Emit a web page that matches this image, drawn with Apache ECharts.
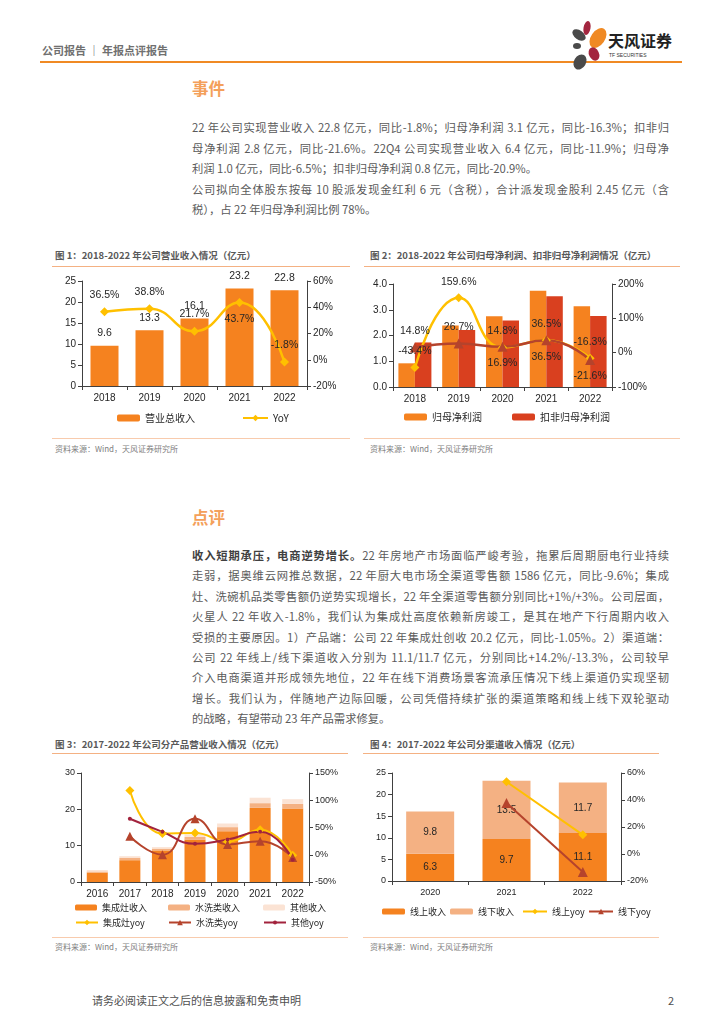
<!DOCTYPE html>
<html><head><meta charset="utf-8">
<script src="https://cdn.jsdelivr.net/npm/echarts@6/dist/echarts.min.js"></script>
<style>
body{margin:0;width:724px;height:1024px;background:#fff;position:relative;overflow:hidden;font-family:"Noto Sans CJK SC","Noto Sans",sans-serif;}
.a{position:absolute;white-space:nowrap;}
.hr{position:absolute;height:0;}
.h2{font-size:16.5px;font-weight:bold;color:#F4A05A;line-height:20px;}
.ln{position:absolute;left:192px;width:477px;font-size:11.3px;color:#5a5a5a;line-height:14px;white-space:normal;}
.j{text-align:justify;text-align-last:justify;}
.tt{font-size:9.5px;font-weight:bold;color:#595959;line-height:12px;}
.src{font-size:8px;color:#808080;line-height:10px;}
.chart{position:absolute;}
b{color:#404040;}
</style></head>
<body>
<!-- header -->
<div class="a" style="left:42px;top:43px;font-size:11px;font-weight:bold;color:#707070;line-height:14px;">公司报告 ｜ 年报点评报告</div>
<div class="hr" style="left:40px;top:61px;width:642px;border-top:2px solid #F08A24;"></div>
<svg class="a" style="left:566px;top:16px;" width="120" height="58" viewBox="566 16 120 58">
  <ellipse cx="579" cy="35" rx="7.5" ry="4.5" transform="rotate(35 579 35)" fill="#4a4a4a"/>
  <ellipse cx="587" cy="28" rx="3.5" ry="7" transform="rotate(10 587 28)" fill="#A3263F"/>
  <ellipse cx="598" cy="38" rx="7" ry="11" transform="rotate(35 598 38)" fill="#F08A24"/>
  <ellipse cx="577" cy="46" rx="4" ry="3" fill="#4a4a4a"/>
  <ellipse cx="594" cy="54" rx="5" ry="7" transform="rotate(-25 594 54)" fill="#A3263F"/>
  <ellipse cx="580" cy="62" rx="6" ry="8" transform="rotate(30 580 62)" fill="#4a4a4a"/>
  <text x="608" y="47" font-size="16" font-weight="bold" fill="#222" font-family="Noto Sans CJK SC">天风证券</text>
  <text x="609" y="57" font-size="5" fill="#333" font-family="Liberation Sans">TF SECURITIES</text>
</svg>

<!-- 事件 -->
<div class="a h2" style="left:192px;top:78px;">事件</div>
<div class="ln j" style="top:120px;">22 年公司实现营业收入 22.8 亿元，同比-1.8%；归母净利润 3.1 亿元，同比-16.3%；扣非归</div>
<div class="ln j" style="top:141px;">母净利润 2.8 亿元，同比-21.6%。22Q4 公司实现营业收入 6.4 亿元，同比-11.9%；归母净</div>
<div class="ln" style="top:161px;">利润 1.0 亿元，同比-6.5%；扣非归母净利润 0.8 亿元，同比-20.9%。</div>
<div class="ln j" style="top:182px;">公司拟向全体股东按每 10 股派发现金红利 6 元（含税），合计派发现金股利 2.45 亿元（含</div>
<div class="ln" style="top:202px;">税），占 22 年归母净利润比例 78%。</div>

<!-- chart titles -->
<div class="a tt" style="left:55px;top:249px;">图 1：2018-2022 年公司营业收入情况（亿元）</div>
<div class="hr" style="left:52px;top:266px;width:298px;border-top:1px solid #F4B183;"></div>
<div class="a tt" style="left:370px;top:249px;">图 2：2018-2022 年公司归母净利润、扣非归母净利润情况（亿元）</div>
<div class="hr" style="left:364px;top:266px;width:316px;border-top:1px solid #F4B183;"></div>
<div class="hr" style="left:52px;top:438px;width:298px;border-top:1px solid #F8CBAD;"></div>
<div class="hr" style="left:364px;top:438px;width:316px;border-top:1px solid #F8CBAD;"></div>
<div class="a src" style="left:55px;top:444px;">资料来源：Wind，天风证券研究所</div>
<div class="a src" style="left:370px;top:444px;">资料来源：Wind，天风证券研究所</div>

<div id="c1" class="chart" style="left:40px;top:262px;width:320px;height:175px;"></div>
<div id="c2" class="chart" style="left:360px;top:262px;width:330px;height:175px;"></div>

<!-- 点评 -->
<div class="a h2" style="left:192px;top:507px;">点评</div>
<div class="ln j" style="top:548px;"><b>收入短期承压，电商逆势增长。</b>22 年房地产市场面临严峻考验，拖累后周期厨电行业持续</div>
<div class="ln j" style="top:568px;">走弱，据奥维云网推总数据，22 年厨大电市场全渠道零售额 1586 亿元，同比-9.6%；集成</div>
<div class="ln j" style="top:589px;">灶、洗碗机品类零售额仍逆势实现增长，22 年全渠道零售额分别同比+1%/+3%。公司层面，</div>
<div class="ln j" style="top:609px;">火星人 22 年收入-1.8%，我们认为集成灶高度依赖新房竣工，是其在地产下行周期内收入</div>
<div class="ln j" style="top:630px;">受损的主要原因。1）产品端：公司 22 年集成灶创收 20.2 亿元，同比-1.05%。2）渠道端：</div>
<div class="ln j" style="top:650px;">公司 22 年线上/线下渠道收入分别为 11.1/11.7 亿元，分别同比+14.2%/-13.3%，公司较早</div>
<div class="ln j" style="top:670px;">介入电商渠道并形成领先地位，22 年在线下消费场景客流承压情况下线上渠道仍实现坚韧</div>
<div class="ln j" style="top:691px;">增长。我们认为，伴随地产边际回暖，公司凭借持续扩张的渠道策略和线上线下双轮驱动</div>
<div class="ln" style="top:711px;">的战略，有望带动 23 年产品需求修复。</div>

<div class="a tt" style="left:55px;top:738px;">图 3：2017-2022 年公司分产品营业收入情况（亿元）</div>
<div class="hr" style="left:52px;top:753px;width:296px;border-top:1px solid #F4B183;"></div>
<div class="a tt" style="left:370px;top:738px;">图 4：2017-2022 年公司分渠道收入情况（亿元）</div>
<div class="hr" style="left:363px;top:753px;width:296px;border-top:1px solid #F4B183;"></div>
<div class="hr" style="left:52px;top:937px;width:296px;border-top:1px solid #F8CBAD;"></div>
<div class="hr" style="left:363px;top:937px;width:296px;border-top:1px solid #F8CBAD;"></div>
<div class="a src" style="left:55px;top:942px;">资料来源：Wind，天风证券研究所</div>
<div class="a src" style="left:370px;top:942px;">资料来源：Wind，天风证券研究所</div>

<div id="c3" class="chart" style="left:40px;top:760px;width:320px;height:175px;"></div>
<div id="c4" class="chart" style="left:360px;top:760px;width:320px;height:175px;"></div>

<!-- footer -->
<div class="a" style="left:92px;top:993px;font-size:11px;color:#505050;line-height:14px;">请务必阅读正文之后的信息披露和免责申明</div>
<div class="a" style="left:668px;top:993px;font-size:11px;color:#505050;line-height:14px;">2</div>

<script>
// ---------- data ----------
const years1 = ['2018', '2019', '2020', '2021', '2022'];
const revenue = [9.6, 13.3, 16.1, 23.2, 22.8];
const revenueYoy = [36.5, 38.8, 21.7, 43.7, -1.8];

const years2 = ['2018', '2019', '2020', '2021', '2022'];
const netProfit = [0.92, 2.39, 2.75, 3.74, 3.14];
const deductedProfit = [1.73, 2.21, 2.58, 3.52, 2.76];
const netProfitYoy = [-43.4, 159.6, 14.8, 36.5, -16.3];
const deductedYoy = [14.8, 26.7, 16.9, 36.5, -21.6];

const years3 = ['2016', '2017', '2018', '2019', '2020', '2021', '2022'];
const stoveRev = [2.6, 6.0, 8.7, 11.6, 14.0, 20.4, 20.2];
const washRev = [0.3, 0.6, 0.5, 0.8, 1.1, 1.3, 1.3];
const otherRev = [0.4, 0.5, 0.4, 0.7, 1.0, 1.5, 1.3];
const stoveYoy = [null, 118, 39, 40, 24, 46, -1];
const washYoy = [null, 34, 0, 66, 19, 25, -5];
const otherYoy = [null, 66, 42, 20, 28, 42, -9];

const years4 = ['2020', '2021', '2022'];
const onlineRev = [6.3, 9.7, 11.1];
const offlineRev = [9.8, 13.5, 11.7];
const onlineYoy = [null, 53.5, 14.2];
const offlineYoy = [null, 37.8, -13.3];

// label placement (style, not data)
const revYoyPos = ['top', 'top', 'top', 'bottom', 'top'];
const npYoyPos = ['top', 'top', 'top', 'top', 'top'];
const dedYoyPos = ['top', 'top', 'bottom', 'bottom', 'bottom'];

// ---------- styles ----------
const AX = '#404040', TXT = '#262626';
const NUM = '"Liberation Sans", Arial, sans-serif';
const CJK = '"Noto Sans CJK SC", sans-serif';
const ORANGE = '#F5821F', RED = '#D9401F', SALMON = '#F4B183', PALE = '#FBE3D4';
const YEL = '#FFC000', BROWN = '#B5432C', CRIMSON = '#A2233D';

function valAxis(o, fs) {
  return Object.assign({
    type: 'value', splitLine: { show: false },
    axisLine: { show: true, lineStyle: { color: AX } },
    axisTick: { show: true, length: 4, lineStyle: { color: AX } },
    axisLabel: { color: TXT, fontSize: fs, fontFamily: NUM, margin: 6 }
  }, o);
}
function catAxis(data, fs) {
  return {
    type: 'category', data: data,
    axisLine: { show: true, lineStyle: { color: AX } },
    axisTick: { show: true, length: 4, lineStyle: { color: AX } },
    axisLabel: { color: TXT, fontSize: fs, fontFamily: NUM, margin: 7 }
  };
}
function leg(name, left, top, fs, iw, ih) {
  return { data: [name], left: left, top: top, itemWidth: iw, itemHeight: ih, padding: 0,
    selectedMode: false, textStyle: { fontSize: fs, color: TXT, fontFamily: CJK } };
}
const pct = p => p.value.toFixed(1) + '%';
const withPos = (vals, pos) => vals.map((v, i) => ({ value: v, label: { position: pos[i] } }));

// ---------- chart 1 ----------
echarts.init(document.getElementById('c1')).setOption({
  animation: false,
  grid: { left: 42, top: 19, width: 225, height: 105 },
  legend: [leg('营业总收入', 77, 151, 10, 23, 7), leg('YoY', 202, 151, 10, 25, 8)],
  xAxis: catAxis(years1, 10),
  yAxis: [
    valAxis({ min: 0, max: 25, interval: 5 }, 10),
    valAxis({ min: -20, max: 60, interval: 20, position: 'right',
      axisLabel: { color: TXT, fontSize: 10, fontFamily: NUM, margin: 6, formatter: '{value}%' } }, 10)
  ],
  series: [
    { name: '营业总收入', type: 'bar', data: revenue, barWidth: 28, itemStyle: { color: ORANGE },
      label: { show: true, position: 'top', distance: 7, color: TXT, fontSize: 10.5, fontFamily: NUM } },
    { name: 'YoY', type: 'line', yAxisIndex: 1, smooth: true, data: withPos(revenueYoy, revYoyPos),
      symbol: 'diamond', symbolSize: 9, lineStyle: { color: YEL, width: 2.5 }, itemStyle: { color: YEL },
      label: { show: true, distance: 7, color: TXT, fontSize: 10.5, fontFamily: NUM, formatter: pct } }
  ]
});

// ---------- chart 2 ----------
echarts.init(document.getElementById('c2')).setOption({
  animation: false,
  grid: { left: 33, top: 22, width: 219, height: 103 },
  legend: [leg('归母净利润', 44, 150, 10, 23, 7), leg('扣非归母净利润', 152, 150, 10, 23, 7)],
  xAxis: catAxis(years2, 10),
  yAxis: [
    valAxis({ min: 0, max: 4, interval: 1,
      axisLabel: { color: TXT, fontSize: 10, fontFamily: NUM, margin: 6, formatter: v => v.toFixed(1) } }, 10),
    valAxis({ min: -100, max: 200, interval: 100, position: 'right',
      axisLabel: { color: TXT, fontSize: 10, fontFamily: NUM, margin: 6, formatter: '{value}%' } }, 10)
  ],
  series: [
    { name: '归母净利润', type: 'bar', data: netProfit, barWidth: 16.5, barGap: '0%', itemStyle: { color: ORANGE } },
    { name: '扣非归母净利润', type: 'bar', data: deductedProfit, barWidth: 16.5, barGap: '0%', itemStyle: { color: RED } },
    { name: '归母yoy', type: 'line', yAxisIndex: 1, smooth: true, data: withPos(netProfitYoy, npYoyPos),
      symbol: 'diamond', symbolSize: 9, lineStyle: { color: YEL, width: 2.5 }, itemStyle: { color: YEL },
      label: { show: true, distance: 6, color: TXT, fontSize: 10.5, fontFamily: NUM, formatter: pct } },
    { name: '扣非yoy', type: 'line', yAxisIndex: 1, smooth: true, data: withPos(deductedYoy, dedYoyPos),
      symbol: 'triangle', symbolSize: 10, lineStyle: { color: BROWN, width: 2.5 }, itemStyle: { color: BROWN },
      label: { show: true, distance: 6, color: TXT, fontSize: 10.5, fontFamily: NUM, formatter: pct } }
  ]
});

// ---------- chart 3 ----------
echarts.init(document.getElementById('c3')).setOption({
  animation: false,
  grid: { left: 41, top: 13, width: 228, height: 109 },
  legend: [
    leg('集成灶收入', 35, 143, 9, 22, 6), leg('水洗类收入', 128, 143, 9, 22, 6), leg('其他收入', 223, 143, 9, 22, 6),
    leg('集成灶yoy', 35, 158, 9, 22, 7), leg('水洗类yoy', 128, 158, 9, 22, 7), leg('其他yoy', 223, 158, 9, 22, 5)
  ],
  xAxis: catAxis(years3, 10),
  yAxis: [
    valAxis({ min: 0, max: 30, interval: 10 }, 9),
    valAxis({ min: -50, max: 150, interval: 50, position: 'right',
      axisLabel: { color: TXT, fontSize: 9, fontFamily: NUM, margin: 6, formatter: '{value}%' } }, 9)
  ],
  series: [
    { name: '集成灶收入', type: 'bar', stack: 'p', data: stoveRev, barWidth: 21, itemStyle: { color: ORANGE } },
    { name: '水洗类收入', type: 'bar', stack: 'p', data: washRev, barWidth: 21, itemStyle: { color: SALMON } },
    { name: '其他收入', type: 'bar', stack: 'p', data: otherRev, barWidth: 21, itemStyle: { color: PALE } },
    { name: '集成灶yoy', type: 'line', yAxisIndex: 1, smooth: true, data: stoveYoy,
      symbol: 'diamond', symbolSize: 9, lineStyle: { color: YEL, width: 2 }, itemStyle: { color: YEL } },
    { name: '水洗类yoy', type: 'line', yAxisIndex: 1, smooth: true, data: washYoy,
      symbol: 'triangle', symbolSize: 9, lineStyle: { color: BROWN, width: 2 }, itemStyle: { color: BROWN } },
    { name: '其他yoy', type: 'line', yAxisIndex: 1, smooth: true, data: otherYoy,
      symbol: 'circle', symbolSize: 4, lineStyle: { color: CRIMSON, width: 2 }, itemStyle: { color: CRIMSON } }
  ]
});

// ---------- chart 4 ----------
echarts.init(document.getElementById('c4')).setOption({
  animation: false,
  grid: { left: 32, top: 13, width: 229, height: 108 },
  legend: [
    leg('线上收入', 22, 147, 9, 23, 6), leg('线下收入', 90, 147, 9, 23, 6),
    leg('线上yoy', 162, 147, 9, 24, 7), leg('线下yoy', 228, 147, 9, 24, 7)
  ],
  xAxis: catAxis(years4, 9),
  yAxis: [
    valAxis({ min: 0, max: 25, interval: 5 }, 9),
    valAxis({ min: -20, max: 60, interval: 20, position: 'right',
      axisLabel: { color: TXT, fontSize: 9, fontFamily: NUM, margin: 6, formatter: '{value}%' } }, 9)
  ],
  series: [
    { name: '线上收入', type: 'bar', stack: 'c', data: onlineRev, barWidth: 48, itemStyle: { color: ORANGE },
      label: { show: true, position: 'inside', color: TXT, fontSize: 10, fontFamily: NUM, formatter: p => p.value.toFixed(1) } },
    { name: '线下收入', type: 'bar', stack: 'c', data: offlineRev, barWidth: 48, itemStyle: { color: SALMON },
      label: { show: true, position: 'inside', color: TXT, fontSize: 10, fontFamily: NUM, formatter: p => p.value.toFixed(1) } },
    { name: '线上yoy', type: 'line', yAxisIndex: 1, data: onlineYoy,
      symbol: 'diamond', symbolSize: 9, lineStyle: { color: YEL, width: 2 }, itemStyle: { color: YEL } },
    { name: '线下yoy', type: 'line', yAxisIndex: 1, data: offlineYoy,
      symbol: 'triangle', symbolSize: 10, lineStyle: { color: BROWN, width: 2 }, itemStyle: { color: BROWN } }
  ]
});
</script>
</body></html>
